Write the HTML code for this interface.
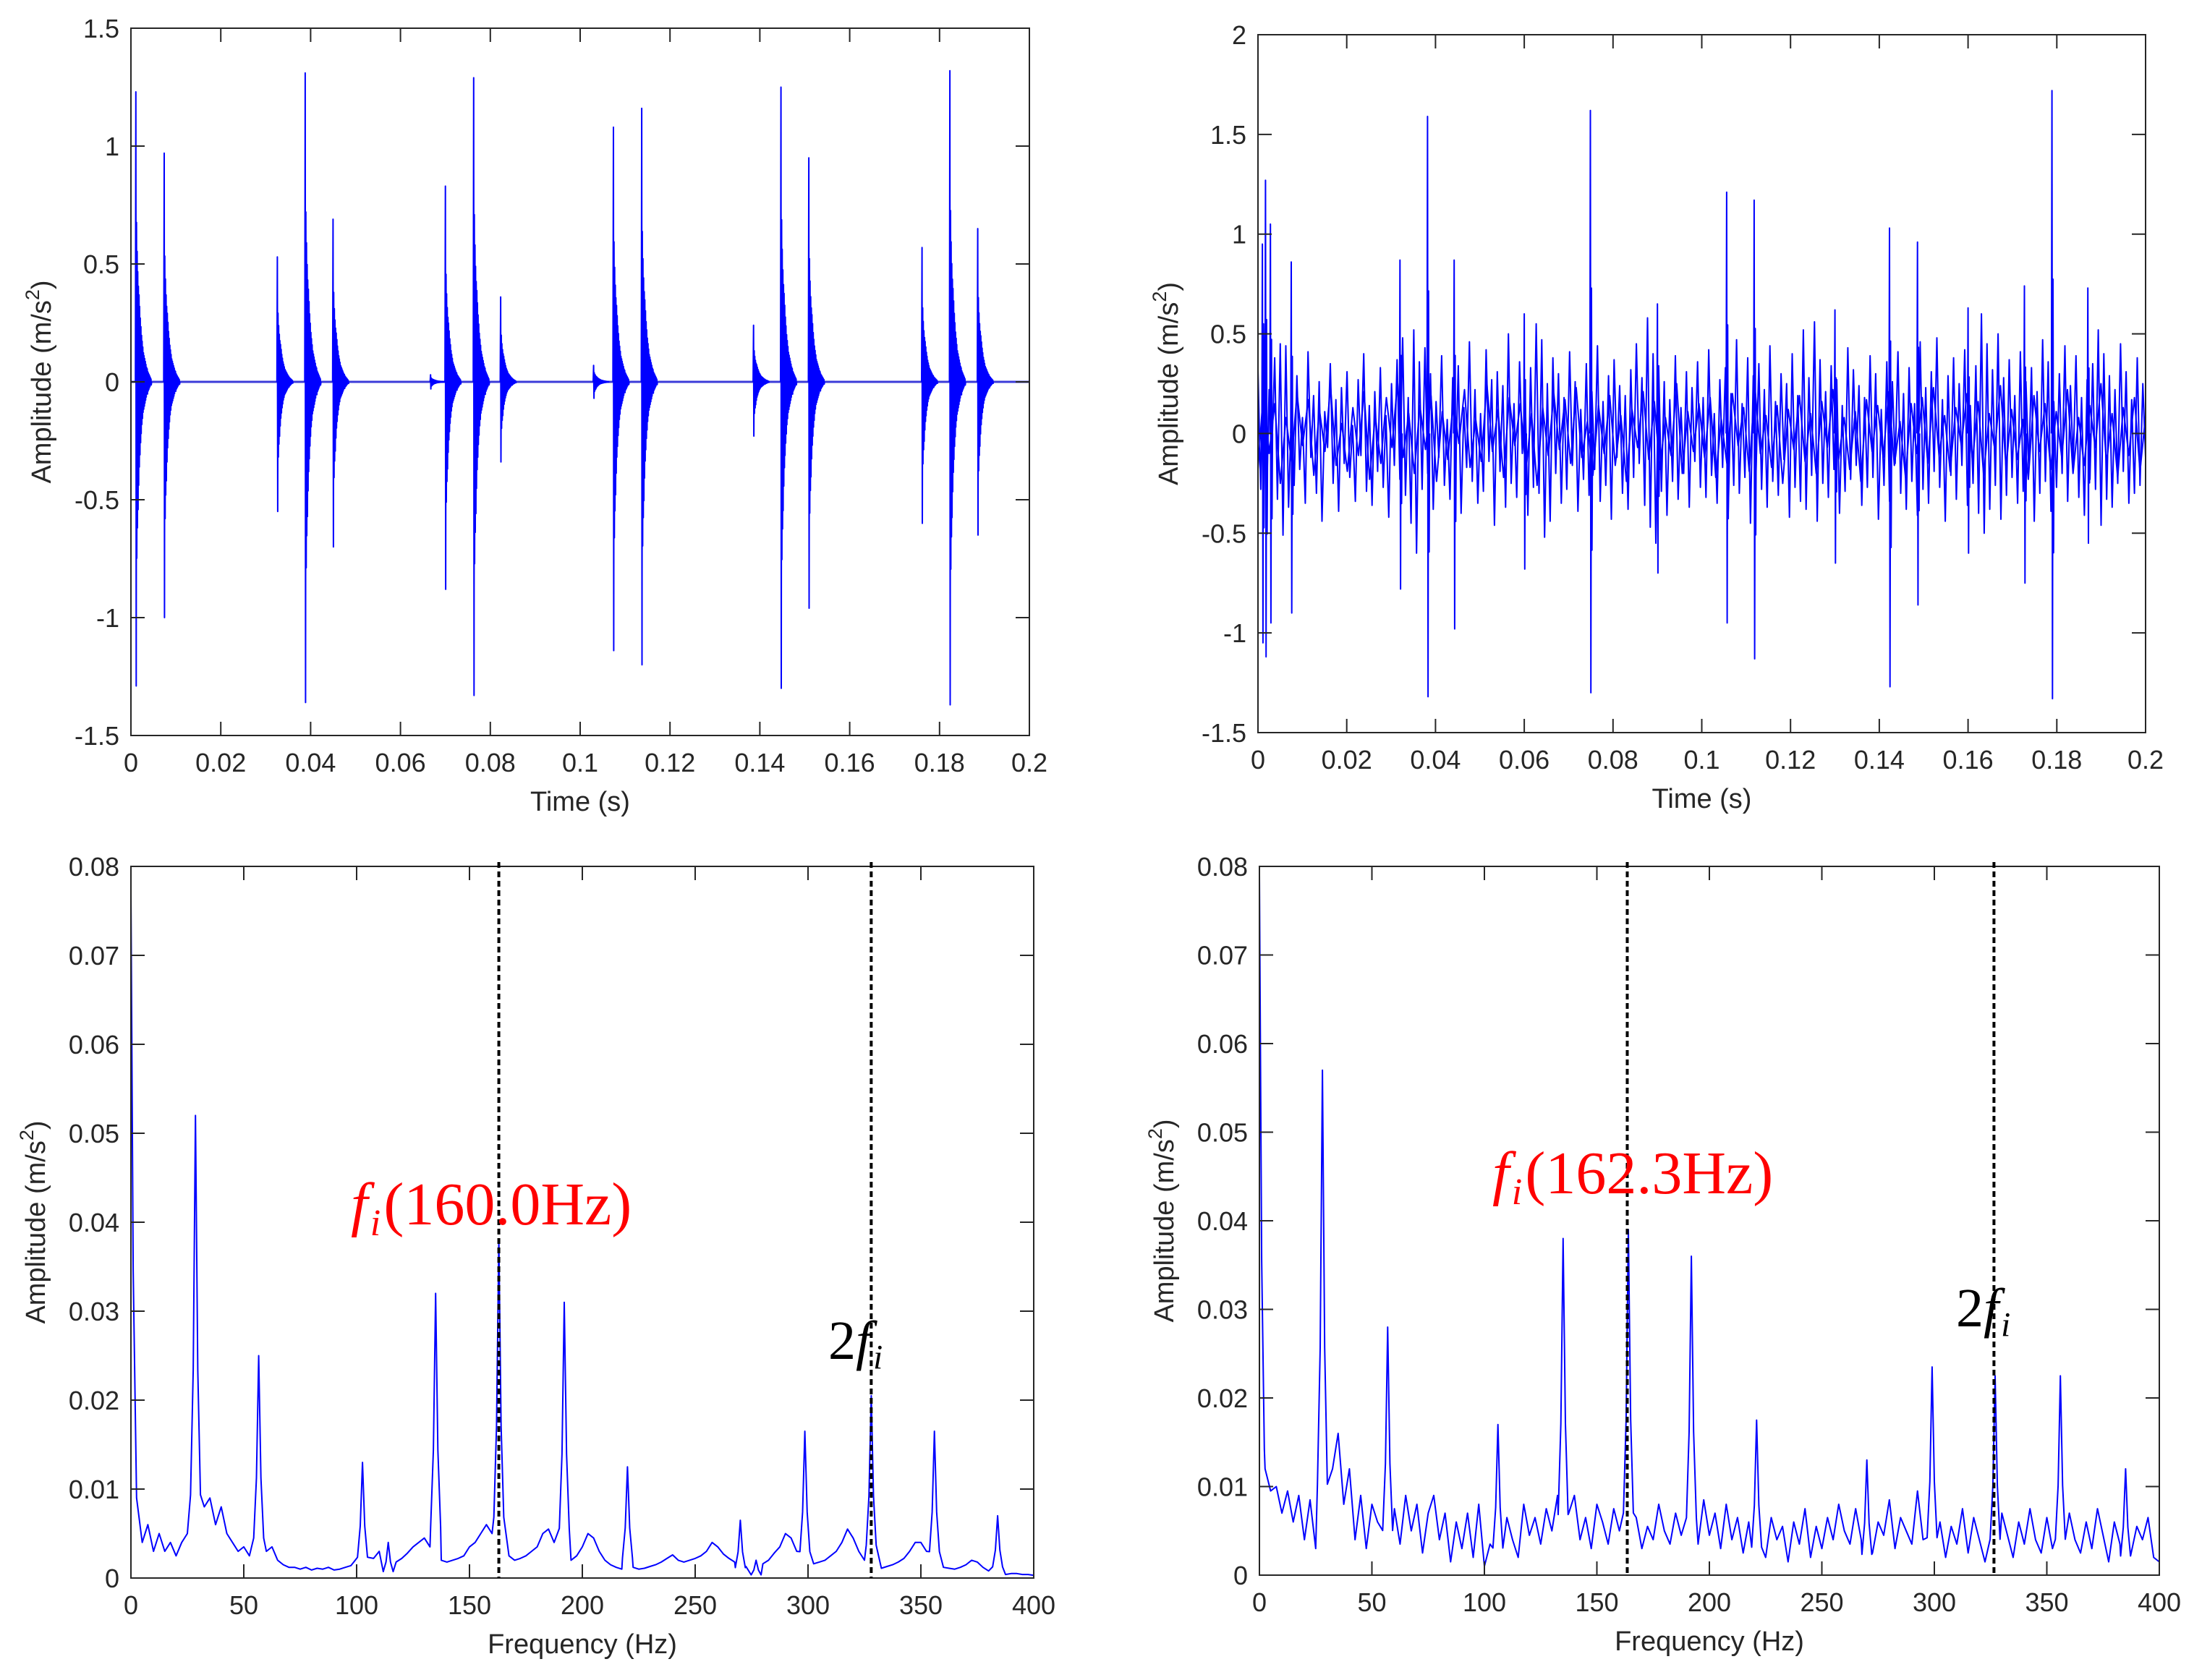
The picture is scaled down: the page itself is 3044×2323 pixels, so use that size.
<!DOCTYPE html>
<html><head><meta charset="utf-8"><style>
html,body{margin:0;padding:0;background:#fff;}
svg{display:block;}
text{font-family:"Liberation Sans",Arial,sans-serif;fill:#262626;}
</style></head><body>
<svg id="fig" width="3044" height="2323" viewBox="0 0 3044 2323" xmlns="http://www.w3.org/2000/svg"></svg>
<script>
// ---------- DATA ----------
const tlImpactTimes = [0.0011,0.0074,0.0326,0.0388,0.0450,0.0667,0.0700,0.0763,0.0823,0.1030,0.1074,0.1137,0.1386,0.1447,0.1509,0.1761,0.1823,0.1885];
const tlImpactPos   = [1.23,0.97,0.53,1.31,0.69,0.03,0.83,1.29,0.36,0.07,1.08,1.16,0.24,1.25,0.95,0.57,1.32,0.65];
const tlImpactNeg   = [-1.29,-1.00,-0.55,-1.36,-0.70,-0.03,-0.88,-1.33,-0.34,-0.07,-1.14,-1.20,-0.23,-1.30,-0.96,-0.60,-1.37,-0.65];
// relative ringing amplitudes after each impact (read from burst shapes)
const tlRing = [1.0,1.0,0.55,0.58,0.45,0.48,0.38,0.42,0.33,0.34,0.30,0.28,0.26,0.24,0.22,0.20,0.19,0.17,0.16,0.14,0.14,0.12,0.12,0.10,0.10,0.09,0.09,0.08,0.08,0.07,0.07,0.06,0.06,0.05,0.05,0.04,0.045,0.04,0.035,0.03,0.03,0.025,0.025,0.02,0.02,0.015,0.015,0.01,0.01,0.01];
const tlXTicks = [0,0.02,0.04,0.06,0.08,0.1,0.12,0.14,0.16,0.18,0.2];
const tlXTickLabels = ["0","0.02","0.04","0.06","0.08","0.1","0.12","0.14","0.16","0.18","0.2"];
const tlYTicks = [-1.5,-1,-0.5,0,0.5,1,1.5];
const tlYTickLabels = ["-1.5","-1","-0.5","0","0.5","1","1.5"];

const trNoise = [
0.32,-0.28,0.55,-0.41,0.22,-0.09,0.38,-0.33,0.45,-0.51,0.44,-0.37,0.12,-0.26,0.29,-0.18,0.08,-0.35,0.41,-0.12,
0.19,-0.30,0.26,-0.44,0.11,-0.07,0.35,-0.25,0.17,-0.39,0.23,-0.15,0.31,-0.22,0.04,-0.34,0.27,-0.11,0.40,-0.29,
0.14,-0.36,0.21,-0.19,0.33,-0.27,0.09,-0.42,0.25,-0.16,0.37,-0.23,0.48,-0.31,0.18,-0.45,0.52,-0.60,0.36,-0.28,
0.43,-0.20,0.30,-0.38,0.16,-0.12,0.39,-0.26,0.07,-0.33,0.28,-0.21,0.34,-0.40,0.13,-0.17,0.46,-0.24,0.22,-0.35,
0.10,-0.29,0.42,-0.14,0.27,-0.46,0.31,-0.19,0.24,-0.37,0.50,-0.25,0.15,-0.32,0.36,-0.10,0.20,-0.41,0.33,-0.27,
0.55,-0.30,0.47,-0.52,0.25,-0.44,0.38,-0.20,0.30,-0.35,0.18,-0.28,0.41,-0.16,0.26,-0.39,0.12,-0.23,0.35,-0.31,
0.21,-0.18,0.44,-0.34,0.16,-0.26,0.29,-0.43,0.37,-0.12,0.24,-0.30,0.19,-0.38,0.32,-0.22,0.45,-0.15,0.28,-0.36,
0.58,-0.47,0.40,-0.55,0.34,-0.29,0.26,-0.41,0.17,-0.24,0.39,-0.33,0.13,-0.20,0.31,-0.37,0.23,-0.14,0.36,-0.27,
0.18,-0.32,0.42,-0.21,0.10,-0.35,0.27,-0.17,0.33,-0.40,0.20,-0.26,0.47,-0.30,0.15,-0.22,0.38,-0.45,0.29,-0.19,
0.35,-0.28,0.22,-0.37,0.44,-0.24,0.16,-0.31,0.30,-0.13,0.25,-0.42,0.40,-0.27,0.19,-0.34,0.52,-0.38,0.28,-0.21,
0.56,-0.44,0.37,-0.25,0.21,-0.32,0.34,-0.18,0.27,-0.40,0.14,-0.29,0.43,-0.23,0.32,-0.16,0.24,-0.36,0.18,-0.27,
0.39,-0.22,0.30,-0.43,0.12,-0.26,0.36,-0.34,0.26,-0.15,0.41,-0.30,0.20,-0.38,0.33,-0.24,0.15,-0.41,0.46,-0.28,
0.23,-0.35,0.31,-0.19,0.48,-0.27,0.17,-0.44,0.29,-0.21,0.38,-0.33,0.25,-0.16,0.42,-0.36,0.14,-0.25,0.34,-0.40,
0.60,-0.50,0.45,-0.38,0.32,-0.26,0.50,-0.43,0.28,-0.31,0.37,-0.22,0.19,-0.35,0.41,-0.29,0.26,-0.18,0.33,-0.44,
0.21,-0.30,0.47,-0.24,0.36,-0.39,0.16,-0.27,0.30,-0.20,0.44,-0.34,0.24,-0.15,0.39,-0.32,0.18,-0.41,0.27,-0.23,
0.35,-0.28,0.52,-0.46,0.40,-0.33,0.29,-0.37,0.22,-0.25,0.45,-0.19,0.31,-0.35,0.17,-0.30,0.38,-0.26,0.25,-0.12
];
const trNoise2 = [
-0.18,0.22,-0.10,0.15,-0.25,0.08,-0.14,0.20,-0.06,0.17,-0.21,0.12,-0.09,0.24,-0.16,0.05,-0.19,0.13,-0.11,0.21,
-0.23,0.09,-0.15,0.18,-0.07,0.26,-0.12,0.10,-0.20,0.14,-0.08,0.19,-0.24,0.11,-0.13,0.16,-0.05,0.22,-0.17,0.07,
-0.14,0.25,-0.09,0.12,-0.22,0.18,-0.06,0.15,-0.19,0.10,-0.26,0.13,-0.11,0.20,-0.08,0.17,-0.15,0.23,-0.12,0.06,
-0.21,0.14,-0.10,0.19,-0.16,0.09,-0.24,0.12,-0.07,0.21,-0.13,0.16,-0.18,0.08,-0.11,0.25,-0.20,0.11,-0.09,0.15,
-0.12,0.18,-0.22,0.07,-0.15,0.20,-0.06,0.13,-0.19,0.24,-0.10,0.09,-0.17,0.14,-0.25,0.12,-0.08,0.19,-0.14,0.10,
-0.20,0.16,-0.07,0.22,-0.13,0.08,-0.18,0.11,-0.24,0.17,-0.09,0.14,-0.12,0.21,-0.16,0.06,-0.22,0.15,-0.10,0.18,
-0.15,0.23,-0.11,0.09,-0.19,0.13,-0.06,0.20,-0.14,0.16,-0.21,0.10,-0.08,0.24,-0.17,0.12,-0.13,0.07,-0.23,0.19,
-0.09,0.15,-0.18,0.11,-0.12,0.22,-0.20,0.08,-0.16,0.14,-0.07,0.25,-0.15,0.10,-0.22,0.13,-0.11,0.18,-0.19,0.09
];
const trSpikeTimes = [0.0010,0.0017,0.0028,0.0075,0.0320,0.0382,0.0442,0.0600,0.0749,0.0900,0.1056,0.1118,0.1300,0.1423,0.1486,0.1600,0.1727,0.1789,0.1870];
const trSpikePos   = [0.95,1.27,1.05,0.86,0.87,1.59,0.87,0.60,1.62,0.65,1.21,1.17,0.62,1.03,0.96,0.63,0.74,1.72,0.73];
const trSpikeNeg   = [-1.05,-1.12,-0.95,-0.90,-0.78,-1.32,-0.98,-0.68,-1.30,-0.70,-0.95,-1.13,-0.65,-1.27,-0.86,-0.60,-0.75,-1.33,-0.55];
const trXTicks = [0,0.02,0.04,0.06,0.08,0.1,0.12,0.14,0.16,0.18,0.2];
const trXTickLabels = ["0","0.02","0.04","0.06","0.08","0.1","0.12","0.14","0.16","0.18","0.2"];
const trYTicks = [-1.5,-1,-0.5,0,0.5,1,1.5,2];
const trYTickLabels = ["-1.5","-1","-0.5","0","0.5","1","1.5","2"];

const blBase = [
0.015,0.009,0.004,0.006,0.003,0.005,0.003,0.004,0.0025,0.004,0.005,0.0045,0.007,0.008,0.009,0.006,0.008,0.005,0.004,0.003,
0.0035,0.0025,0.003,0.004,0.003,0.0035,0.002,0.0015,0.0012,0.0012,0.001,0.0012,0.0009,0.0011,0.001,0.0012,0.0009,0.001,0.0012,0.0014,
0.0022,0.0025,0.002,0.0022,0.003,0.0035,0.002,0.0018,0.0022,0.0028,0.0035,0.004,0.0045,0.0035,0.0025,0.002,0.0018,0.002,0.0022,0.0025,
0.0035,0.004,0.005,0.006,0.005,0.004,0.003,0.0025,0.002,0.0022,0.0025,0.003,0.0035,0.005,0.0055,0.004,0.003,0.0022,0.002,0.0025,
0.0035,0.005,0.0045,0.003,0.002,0.0015,0.0012,0.001,0.0011,0.0012,0.001,0.0011,0.0013,0.0015,0.0018,0.0022,0.0026,0.002,0.0018,0.002,
0.0022,0.0025,0.003,0.004,0.0035,0.0027,0.0022,0.0018,0.0015,0.0013,0.0012,0.0014,0.0016,0.002,0.0028,0.0035,0.005,0.0045,0.003,0.0022,
0.0018,0.0016,0.0018,0.002,0.0025,0.003,0.004,0.0055,0.0045,0.003,0.002,0.0015,0.0012,0.0011,0.0013,0.0015,0.0018,0.0022,0.003,0.004,
0.004,0.003,0.002,0.0015,0.0012,0.0011,0.001,0.0012,0.0015,0.002,0.0018,0.0012,0.0008,0.0006,0.0005,0.0004,0.0005,0.0005,0.0004,0.0004,0.0003
];
const blPeakFreqs = [0,28.6,56.6,102.6,114,135,163,192,220,270,277,298.6,328,356,384];
const blPeakAmps  = [0.077,0.052,0.025,0.013,0.004,0.032,0.038,0.031,0.0125,0.0065,0.002,0.0165,0.0205,0.0165,0.007];

const brBase = [
0.022,0.012,0.0095,0.010,0.007,0.0095,0.006,0.009,0.004,0.0085,0.003,0.011,0.009,0.012,0.016,0.008,0.012,0.004,0.009,0.003,
0.008,0.006,0.009,0.005,0.0075,0.0035,0.009,0.005,0.008,0.0025,0.007,0.009,0.004,0.007,0.0015,0.006,0.003,0.007,0.002,0.008,
0.001,0.0035,0.005,0.002,0.0065,0.004,0.002,0.008,0.0045,0.0065,0.0035,0.0075,0.005,0.009,0.0055,0.007,0.009,0.004,0.0065,0.003,
0.008,0.006,0.0035,0.0075,0.005,0.009,0.0045,0.0065,0.003,0.0055,0.004,0.008,0.005,0.0035,0.007,0.0045,0.0025,0.009,0.0035,0.0085,
0.0045,0.007,0.003,0.008,0.004,0.0065,0.0025,0.006,0.0035,0.005,0.002,0.0065,0.004,0.0055,0.0015,0.006,0.0035,0.0075,0.002,0.0055,
0.003,0.0065,0.004,0.008,0.005,0.0035,0.0075,0.004,0.007,0.0025,0.006,0.0045,0.0085,0.003,0.0065,0.005,0.0035,0.0095,0.004,0.0075,
0.0025,0.006,0.002,0.0055,0.0035,0.0075,0.0025,0.0065,0.004,0.0015,0.0055,0.003,0.007,0.0045,0.002,0.006,0.0035,0.0075,0.004,0.0025,
0.0065,0.003,0.0055,0.002,0.007,0.004,0.0025,0.006,0.003,0.0075,0.0045,0.0015,0.006,0.0035,0.007,0.0025,0.0055,0.004,0.0065,0.002,0.0015
];
const brPeakFreqs = [0,28,57,106,135,164,192,221,270,299,327,356,385];
const brPeakAmps  = [0.079,0.057,0.028,0.017,0.038,0.039,0.036,0.0175,0.013,0.0235,0.0225,0.0225,0.012];

const specXTicks = [0,50,100,150,200,250,300,350,400];
const specXTickLabels = ["0","50","100","150","200","250","300","350","400"];
const specYTicks = [0,0.01,0.02,0.03,0.04,0.05,0.06,0.07,0.08];
const specYTickLabels = ["0","0.01","0.02","0.03","0.04","0.05","0.06","0.07","0.08"];

const blMarkFreqs = [163,328];
const brMarkFreqs = [163.5,326.5];

// ---------- DRAWING ----------
const NS = "http://www.w3.org/2000/svg";
const fig = document.getElementById('fig');
function el(tag, attrs, parent){
  const e = document.createElementNS(NS, tag);
  for (const k in attrs) e.setAttribute(k, attrs[k]);
  (parent||fig).appendChild(e);
  return e;
}
function scale(d0,d1,r0,r1){ return v => r0 + (v-d0)/(d1-d0)*(r1-r0); }

function axes(name, box, xd, yd, xt, xtl, yt, ytl, xTitle){
  const g = el('g', {});
  
  
  const sx = scale(xd[0],xd[1],box.l,box.r);
  const sy = scale(yd[0],yd[1],box.b,box.t);
  const r = el('rect',{x:box.l,y:box.t,width:box.r-box.l,height:box.b-box.t,fill:'#fff',stroke:'none'},g);
  
  
  const plot = el('g',{},g);
  
  
  const frame = el('g',{},g);
  
  
  el('rect',{x:box.l,y:box.t,width:box.r-box.l,height:box.b-box.t,fill:'none',stroke:'#262626','stroke-width':2},frame);
  const tl = 19;
  xt.forEach((v,i)=>{
    const x = sx(v);
    el('line',{x1:x,y1:box.b,x2:x,y2:box.b-tl,stroke:'#262626','stroke-width':2},frame);
    el('line',{x1:x,y1:box.t,x2:x,y2:box.t+tl,stroke:'#262626','stroke-width':2},frame);
    const t = el('text',{x:x,y:box.b+50,'font-size':36,'text-anchor':'middle'},frame);
    t.textContent = xtl[i];
    
    
  });
  yt.forEach((v,i)=>{
    const y = sy(v);
    el('line',{x1:box.l,y1:y,x2:box.l+tl,y2:y,stroke:'#262626','stroke-width':2},frame);
    el('line',{x1:box.r,y1:y,x2:box.r-tl,y2:y,stroke:'#262626','stroke-width':2},frame);
    const t = el('text',{x:box.l-16,y:y+13,'font-size':36,'text-anchor':'end'},frame);
    t.textContent = ytl[i];
    
    
  });
  const xtEl = el('text',{x:(box.l+box.r)/2,y:box.b+104,'font-size':38,'text-anchor':'middle'},g);
  xtEl.textContent = xTitle;
  
  
  const yx = box.ylx, yy = (box.t+box.b)/2;
  const ytEl = el('text',{x:yx,y:yy,'font-size':38,'text-anchor':'middle',transform:`rotate(-90 ${yx} ${yy})`},g);
  
  
  const a = el('tspan',{},ytEl); a.textContent='Amplitude (m/s';
  const b = el('tspan',{dy:-16,'font-size':27},ytEl); b.textContent='2';
  const c = el('tspan',{dy:16},ytEl); c.textContent=')';
  return {g, plot, sx, sy};
}

function polyline(parent, pts, name, color, w){
  const p = el('polyline',{points:pts.map(q=>q[0].toFixed(1)+','+q[1].toFixed(1)).join(' '),fill:'none',stroke:color,'stroke-width':w,'stroke-linejoin':'round'},parent);
  
  
  return p;
}

// ---- Top-left ----
(function(){
  const A = axes('time-plot-healthy',{l:181,r:1423,t:39,b:1017,ylx:70},[0,0.2],[-1.5,1.5],tlXTicks,tlXTickLabels,tlYTicks,tlYTickLabels,'Time (s)');
  polyline(A.plot,[[A.sx(0),A.sy(0)],[A.sx(0.2),A.sy(0)]],'zero-line','#3b3bd8',3);
  tlImpactTimes.forEach((t0,i)=>{
    const pts=[[A.sx(t0-0.0001),A.sy(0)]];
    const dt=0.00007;
    tlRing.forEach((r,k)=>{
      const v = (k%2===0? tlImpactPos[i] : tlImpactNeg[i])*r;
      pts.push([A.sx(t0+k*dt),A.sy(v)]);
    });
    pts.push([A.sx(t0+tlRing.length*dt),A.sy(0)]);
    polyline(A.plot,pts,'impact-burst','#0000ff',2);
  });
})();

// ---- Top-right ----
(function(){
  const A = axes('time-plot-noisy',{l:1739,r:2966,t:48,b:1013,ylx:1628},[0,0.2],[-1.5,2],trXTicks,trXTickLabels,trYTicks,trYTickLabels,'Time (s)');
  const n2=trNoise2.length;
  polyline(A.plot,trNoise2.map((v,i)=>[A.sx(i/(n2-1)*0.2),A.sy(v)]),'noise-signal-fine','#0000ff',2);
  const n=trNoise.length;
  polyline(A.plot,trNoise.map((v,i)=>[A.sx(i/(n-1)*0.2),A.sy(v)]),'noise-signal','#0000ff',2);
  trSpikeTimes.forEach((t0,i)=>{
    const dt=0.00012;
    const p=[[A.sx(t0-dt),A.sy(0)],[A.sx(t0),A.sy(trSpikePos[i])],[A.sx(t0+dt),A.sy(trSpikeNeg[i])],
      [A.sx(t0+2*dt),A.sy(trSpikePos[i]*0.45)],[A.sx(t0+3*dt),A.sy(trSpikeNeg[i]*0.45)],[A.sx(t0+4*dt),A.sy(0)]];
    polyline(A.plot,p,'impulse-spike','#0000ff',2);
  });
})();

function spectrum(A, base, pf, pa, name){
  let pts=[];
  base.forEach((v,i)=>{
    const f=i*2.5;
    if(pf.some(p=>Math.abs(p-f)<2.5)) return;
    pts.push([f,v]);
  });
  pf.forEach((f,i)=>{
    pts.push([f,pa[i]]);
    if(f-1>=0){ pts.push([f-1,pa[i]*0.45]); pts.push([f-2.2,pa[i]*0.18]); }
    pts.push([f+1,pa[i]*0.45]); pts.push([f+2.2,pa[i]*0.18]);
  });
  pts.sort((a,b)=>a[0]-b[0]);
  polyline(A.plot,pts.map(q=>[A.sx(q[0]),A.sy(q[1])]),name,'#0000ff',2);
}
function marks(A, freqs, top, bottom){
  freqs.forEach(f=>{
    const l=el('line',{x1:A.sx(f),x2:A.sx(f),y1:top,y2:bottom,stroke:'#000','stroke-width':4,'stroke-dasharray':'8,5'},fig);
    
    
  });
}
function label(x,y,main,val,color,size,name){
  const t=el('text',{x:x,y:y,'font-size':size,fill:color,style:'font-family:"Liberation Serif",serif;fill:'+color},fig);
  
  
  if(main){ const a=el('tspan',{},t); a.textContent=main; }
  const f=el('tspan',{'font-style':'italic'},t); f.textContent='f';
  const i=el('tspan',{'font-style':'italic','font-size':size*0.62,dy:size*0.18,dx:size*0.04},t); i.textContent='i';
  if(val){ const v=el('tspan',{dy:-size*0.18,dx:size*0.05},t); v.textContent=val; }
}

// ---- Bottom-left ----
(function(){
  const A = axes('spectrum-healthy',{l:181,r:1429,t:1198,b:2182,ylx:62},[0,400],[0,0.08],specXTicks,specXTickLabels,specYTicks,specYTickLabels,'Frequency (Hz)');
  spectrum(A, blBase, blPeakFreqs, blPeakAmps, 'envelope-spectrum');
  marks(A, blMarkFreqs, 1192, 2182);
  label(485,1693,'','(160.0Hz)','#ff0000',84,'fi-annotation');
  label(1145,1879,'2','','#000',76,'2fi-annotation');
})();

// ---- Bottom-right ----
(function(){
  const A = axes('spectrum-noisy',{l:1741,r:2985,t:1198,b:2178,ylx:1622},[0,400],[0,0.08],specXTicks,specXTickLabels,specYTicks,specYTickLabels,'Frequency (Hz)');
  spectrum(A, brBase, brPeakFreqs, brPeakAmps, 'envelope-spectrum');
  marks(A, brMarkFreqs, 1192, 2178);
  label(2063,1650,'','(162.3Hz)','#ff0000',84,'fi-annotation');
  label(2704,1834,'2','','#000',76,'2fi-annotation');
})();
</script>
</body></html>
